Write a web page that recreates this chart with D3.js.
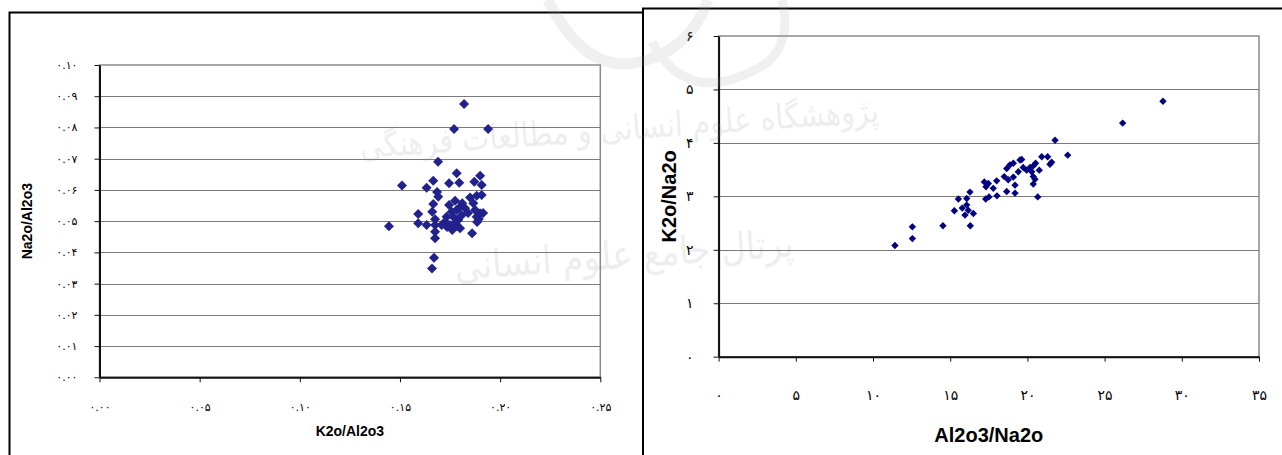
<!DOCTYPE html>
<html>
<head>
<meta charset="utf-8">
<script src="https://cdn.jsdelivr.net/npm/d3@7/dist/d3.min.js"></script>
<style>
  html, body { margin: 0; padding: 0; background: #fff; }
  svg { display: block; }
  .tick text { font-family: "DejaVu Sans", sans-serif; fill: #000; }
  .title { font-family: "Liberation Sans", Arial, sans-serif; font-weight: bold; fill: #000; }
  .wm { font-family: "DejaVu Sans", sans-serif; fill: #8c8c8c; }
</style>
</head>
<body>
<svg id="chart" width="1282" height="455"></svg>
<script>
// Left panel: K2O/Al2O3 (x) against Na2O/Al2O3 (y)
const leftK2OAl2O3 = [
  0.182, 0.177, 0.194, 0.169, 0.151, 0.1445, 0.167, 0.166, 0.186, 0.1666,
  0.1633, 0.1745, 0.1783, 0.1796, 0.1871, 0.190, 0.1908, 0.1691, 0.1666, 0.1775,
  0.1811, 0.185, 0.1883, 0.1908, 0.1866, 0.1591, 0.1661, 0.1675, 0.1758, 0.1783,
  0.1825, 0.1875, 0.190, 0.1883, 0.1894, 0.1591, 0.1633, 0.1675, 0.1725, 0.175,
  0.1775, 0.1791, 0.1761, 0.180, 0.1675, 0.1675, 0.1733, 0.1766, 0.1808, 0.1708,
  0.1885, 0.1915, 0.184, 0.1735, 0.1785, 0.1745, 0.1685, 0.1795
];
const leftNa2OAl2O3 = [
  0.0875, 0.0795, 0.0795, 0.069, 0.0614, 0.0484, 0.0383, 0.0348, 0.0461, 0.0629,
  0.0607, 0.0621, 0.0653, 0.0623, 0.0626, 0.0645, 0.0616, 0.0578, 0.0555, 0.0565,
  0.0557, 0.0576, 0.0581, 0.0584, 0.0557, 0.0523, 0.053, 0.0506, 0.053, 0.0536,
  0.0541, 0.0536, 0.0525, 0.0514, 0.0507, 0.0493, 0.0488, 0.0488, 0.0498, 0.0488,
  0.0493, 0.0504, 0.0472, 0.0477, 0.0466, 0.0445, 0.0514, 0.0514, 0.0519, 0.0488,
  0.0497, 0.0526, 0.0526, 0.0481, 0.0484, 0.0552, 0.0593, 0.0542
];

// Right panel: Al2O3/Na2O (x) against K2O/Na2O (y)
const rightAl2O3Na2O = [
  21.79, 22.61, 11.42, 12.55, 12.55, 14.53, 16.30, 15.27, 15.53, 16.07,
  16.28, 15.78, 16.07, 15.96, 16.50, 16.17, 17.30, 17.51, 18.03, 17.21,
  17.47, 17.32, 17.79, 18.01, 18.66, 18.50, 18.76, 19.09, 19.20, 19.20,
  18.66, 18.87, 19.09, 19.52, 19.63, 19.41, 19.95, 20.17, 20.38, 20.53,
  20.28, 20.38, 20.49, 20.38, 20.67, 20.77, 20.93, 21.31, 21.46, 21.57,
  19.73, 28.78, 26.17
];
const rightK2ONa2O = [
  4.05, 3.77, 2.08, 2.43, 2.21, 2.45, 2.45, 2.73, 2.95, 2.96,
  3.08, 2.78, 2.84, 2.65, 2.68, 2.74, 2.95, 2.99, 3.01, 3.27,
  3.24, 3.18, 3.15, 3.29, 3.09, 3.37, 3.31, 3.36, 3.06, 3.21,
  3.52, 3.59, 3.62, 3.68, 3.69, 3.46, 3.49, 3.54, 3.57, 3.62,
  3.46, 3.37, 3.32, 3.23, 2.99, 3.49, 3.74, 3.74, 3.60, 3.64,
  3.54, 4.78, 4.37
];

// Tick values
const leftXTicks = [0, 0.05, 0.10, 0.15, 0.20, 0.25];
const leftYTicks = [0, 0.01, 0.02, 0.03, 0.04, 0.05, 0.06, 0.07, 0.08, 0.09, 0.10];
const rightXTicks = [0, 5, 10, 15, 20, 25, 30, 35];
const rightYTicks = [0, 1, 2, 3, 4, 5, 6];

const persianDigits = "۰۱۲۳۴۵۶۷۸۹";
const toPersian = s => String(s).replace(/\d/g, d => persianDigits[+d]);

const svg = d3.select("#chart");

// Outer frames of the two panels
svg.append("path")
  .attr("d", "M9.5,460 V12.5 H643")
  .attr("fill", "none").attr("stroke", "#000").attr("stroke-width", 2);
svg.append("path")
  .attr("d", "M643,460 V8.5 H1290")
  .attr("fill", "none").attr("stroke", "#000").attr("stroke-width", 2);

function panel(cfg) {
  const g = svg.append("g");
  const x = d3.scaleLinear().domain(cfg.xDomain).range([cfg.left, cfg.right]);
  const y = d3.scaleLinear().domain(cfg.yDomain).range([cfg.bottom, cfg.top]);

  // plot area border (top/right) and horizontal gridlines
  g.append("rect")
    .attr("x", cfg.left).attr("y", cfg.top)
    .attr("width", cfg.right - cfg.left).attr("height", cfg.bottom - cfg.top)
    .attr("fill", "#fff").attr("stroke", "#8a8a8a").attr("stroke-width", 1.5);
  g.append("g").selectAll("line")
    .data(cfg.yTicks.filter(v => v > cfg.yDomain[0] && v < cfg.yDomain[1]))
    .join("line")
    .attr("x1", cfg.left).attr("x2", cfg.right)
    .attr("y1", d => Math.round(y(d)) + 0.5).attr("y2", d => Math.round(y(d)) + 0.5)
    .attr("stroke", "#7a7a7a").attr("stroke-width", 1);

  const xAxis = g.append("g")
    .attr("transform", `translate(0,${cfg.bottom})`)
    .call(d3.axisBottom(x).tickValues(cfg.xTicks).tickFormat(cfg.xFormat)
      .tickSize(5).tickSizeOuter(0).tickPadding(cfg.xPad));
  const yAxis = g.append("g")
    .attr("transform", `translate(${cfg.left},0)`)
    .call(d3.axisLeft(y).tickValues(cfg.yTicks).tickFormat(cfg.yFormat)
      .tickSize(5).tickSizeOuter(0).tickPadding(cfg.yPad));
  [xAxis, yAxis].forEach(a => {
    a.select(".domain").attr("stroke", "#111").attr("stroke-width", 2);
    a.selectAll(".tick line").attr("stroke", "#111").attr("stroke-width", 1);
    a.selectAll(".tick text").style("font-size", cfg.tickFont + "px");
  });

  // diamond markers
  const diamond = d3.symbol(d3.symbolSquare, cfg.markerArea)();
  g.append("g").selectAll("path")
    .data(cfg.xs.map((v, i) => [v, cfg.ys[i]]))
    .join("path")
    .attr("d", diamond)
    .attr("transform", d => `translate(${x(d[0])},${y(d[1])}) rotate(45)`)
    .attr("fill", cfg.color);

  // axis titles
  g.append("text").attr("class", "title")
    .attr("x", (cfg.left + cfg.right) / 2).attr("y", cfg.xTitleY)
    .attr("text-anchor", "middle").attr("dominant-baseline", "middle")
    .style("font-size", cfg.titleFont + "px")
    .text(cfg.xTitle);
  g.append("text").attr("class", "title")
    .attr("transform", `translate(${cfg.yTitleX},${(cfg.top + cfg.bottom) / 2}) rotate(-90)`)
    .attr("text-anchor", "middle").attr("dominant-baseline", "middle")
    .style("font-size", cfg.titleFont + "px")
    .text(cfg.yTitle);
}

panel({
  left: 99.5, right: 600.3, top: 65, bottom: 377.3,
  xDomain: [0, 0.25], yDomain: [0, 0.10],
  xTicks: leftXTicks, yTicks: leftYTicks,
  xFormat: d => toPersian(d3.format(".2f")(d)),
  yFormat: d => toPersian(d3.format(".2f")(d)),
  xPad: 21, yPad: 17, tickFont: 11,
  xs: leftK2OAl2O3, ys: leftNa2OAl2O3,
  markerArea: 50, color: "#22228c",
  xTitle: "K2o/Al2o3", yTitle: "Na2o/Al2o3",
  xTitleY: 432, yTitleX: 28, titleFont: 14
});

panel({
  left: 718.6, right: 1259, top: 36, bottom: 356.7,
  xDomain: [0, 35], yDomain: [0, 6],
  xTicks: rightXTicks, yTicks: rightYTicks,
  xFormat: d => toPersian(d), yFormat: d => toPersian(d),
  xPad: 28, yPad: 20, tickFont: 14,
  xs: rightAl2O3Na2O, ys: rightK2ONa2O,
  markerArea: 27, color: "#000080",
  xTitle: "Al2o3/Na2o", yTitle: "K2o/Na2o",
  xTitleY: 437, yTitleX: 671, titleFont: 20
});

// Faint publisher watermark across both panels
const wm = svg.append("g").attr("opacity", 0.16).attr("pointer-events", "none");
wm.append("path").attr("d", "M548,0 Q585,75 640,62 Q690,50 708,0")
  .attr("fill", "none").attr("stroke", "#a0a0a0").attr("stroke-width", 11);
wm.append("path").attr("d", "M652,42 Q690,112 768,62 Q792,40 782,0")
  .attr("fill", "none").attr("stroke", "#a0a0a0").attr("stroke-width", 9);
wm.append("text").attr("class", "wm")
  .attr("transform", "translate(620,140) rotate(-4)")
  .attr("text-anchor", "middle").attr("direction", "rtl")
  .attr("textLength", 520).attr("lengthAdjust", "spacingAndGlyphs")
  .style("font-size", "34px")
  .text("پژوهشگاه علوم انسانی و مطالعات فرهنگی");
wm.append("text").attr("class", "wm")
  .attr("transform", "translate(625,268) rotate(-4)")
  .attr("text-anchor", "middle").attr("direction", "rtl")
  .attr("textLength", 340).attr("lengthAdjust", "spacingAndGlyphs")
  .style("font-size", "38px")
  .text("پرتال جامع علوم انسانی");
</script>
</body>
</html>
